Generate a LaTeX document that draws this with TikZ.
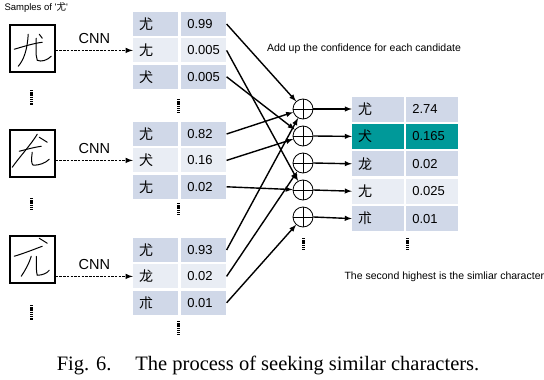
\documentclass[tikz,border=0pt]{standalone}
\usepackage{fontspec}
\setmainfont{Liberation Sans}
\newfontfamily\cjk{Noto Sans CJK SC}
\newfontfamily\capfont{Liberation Serif}
\usepackage{tikz}
\usetikzlibrary{arrows, positioning, calc}
\usepackage{xcolor}
\definecolor{rowdark}{RGB}{208,216,232}
\definecolor{rowlight}{RGB}{233,237,244}
\definecolor{besthit}{RGB}{0,153,153}

\begin{document}
\begin{tikzpicture}[
    x=1pt, y=-1pt,
    sample/.style={rectangle, draw, line width=1.5pt, minimum width=45pt, minimum height=47pt, inner sep=0pt},
    pen/.style={line width=1pt, line cap=round, line join=round},
    keycell/.style={rectangle, inner sep=0pt, inner xsep=6pt, text width=33pt, minimum height=24pt, align=left, font=\cjk\fontsize{14}{16}\selectfont},
    valcell/.style={rectangle, inner sep=0pt, inner xsep=6pt, text width=33pt, minimum height=24pt, align=left, font=\fontsize{13}{15}\selectfont},
    reskey/.style={keycell, text width=40pt, minimum height=25pt},
    resval/.style={valcell, text width=40pt, minimum height=25pt},
    adder/.style={circle, draw, thick, fill=white, minimum size=20pt, inner sep=0pt,
        path picture={\draw (path picture bounding box.north) -- (path picture bounding box.south)
                            (path picture bounding box.west) -- (path picture bounding box.east);}},
    cnn/.style={->, >=latex, line width=1.5pt, dash pattern=on 2.5pt off 1.2pt},
    arrow/.style={->, >=latex, line width=1.4pt},
    vdots/.style={line width=3pt, dash pattern=on 1.3pt off 0.9pt},
    note/.style={font=\fontsize{10.5}{12}\selectfont},
    node distance=2pt
]
    \useasboundingbox (0,0) rectangle (544,380);

    % Samples
    \node[note, anchor=west, font=\fontsize{9.5}{11}\selectfont] (title) at (1,8) {Samples of \textquotesingle{\cjk 尤}\textquotesingle};
    \node[sample] (s1) at (32.5,48.5) {};
    \node[sample] (s2) at (32.5,153.5) {};
    \node[sample] (s3) at (32.5,259.5) {};

    % handwriting
    \begin{scope}[shift={(s1.north west)}]
        \draw[pen] (5,25) .. controls (15,22) and (25,19) .. (33,18);
        \draw[pen] (19,10) .. controls (18,25) and (15,35) .. (9,42);
        \draw[pen] (27,14) .. controls (27,22) and (26,30) .. (28,36) .. controls (32,38) and (38,36) .. (42,32);
        \draw[pen] (30,10) -- (33,14);
    \end{scope}
    \begin{scope}[shift={(s2.north west)}]
        \draw[pen] (10,22) .. controls (18,20) and (25,18) .. (32,17);
        \draw[pen] (28,5) .. controls (22,15) and (10,28) .. (3,38);
        \draw[pen] (30,8) -- (38,13);
        \draw[pen] (23,23) .. controls (22,30) and (22,35) .. (24,36) .. controls (30,36) and (36,34) .. (40,30);
    \end{scope}
    \begin{scope}[shift={(s3.north west)}]
        \draw[pen] (5,21) .. controls (15,18) and (25,14) .. (33,11);
        \draw[pen] (30,3) -- (38,8);
        \draw[pen] (22,21) .. controls (20,28) and (16,35) .. (12,41);
        \draw[pen] (27,21) .. controls (27,30) and (27,37) .. (28,40) .. controls (33,40) and (38,38) .. (40,35);
    \end{scope}

    % CNN outputs, sample 1
    \node[keycell, fill=rowdark] (t1a) at (155.5,24) {尤};
    \node[valcell, fill=rowdark, right=3pt of t1a] (t1av) {0.99};
    \node[keycell, fill=rowlight, below=2pt of t1a] (t1b) {尢};
    \node[valcell, fill=rowlight, right=3pt of t1b] (t1bv) {0.005};
    \node[keycell, fill=rowdark, below=2pt of t1b] (t1c) {犬};
    \node[valcell, fill=rowdark, right=3pt of t1c] (t1cv) {0.005};

    % CNN outputs, sample 2
    \node[keycell, fill=rowdark] (t2a) at (155.5,134) {尤};
    \node[valcell, fill=rowdark, right=3pt of t2a] (t2av) {0.82};
    \node[keycell, fill=rowlight, below=2pt of t2a] (t2b) {犬};
    \node[valcell, fill=rowlight, right=3pt of t2b] (t2bv) {0.16};
    \node[keycell, fill=rowdark, below=2pt of t2b] (t2c) {尢};
    \node[valcell, fill=rowdark, right=3pt of t2c] (t2cv) {0.02};

    % CNN outputs, sample 3
    \node[keycell, fill=rowdark] (t3a) at (155.5,250) {尤};
    \node[valcell, fill=rowdark, right=3pt of t3a] (t3av) {0.93};
    \node[keycell, fill=rowlight, below=2pt of t3a] (t3b) {龙};
    \node[valcell, fill=rowlight, right=3pt of t3b] (t3bv) {0.02};
    \node[keycell, fill=rowdark, below=2pt of t3b] (t3c) {朮};
    \node[valcell, fill=rowdark, right=3pt of t3c] (t3cv) {0.01};

    % CNN arrows
    \draw[cnn] (s1.east |- t1b.west) -- node[above=3pt, font=\fontsize{14.5}{16}\selectfont] {CNN} (t1b.west);
    \draw[cnn] (s2.east |- t2b.west) -- node[above=3pt, font=\fontsize{14.5}{16}\selectfont] {CNN} (t2b.west);
    \draw[cnn] (s3.east |- t3b.west) -- node[above=3pt, font=\fontsize{14.5}{16}\selectfont] {CNN} (t3b.west);

    % Adders
    \node[adder] (c1) at (303,109) {};
    \node[adder] (c2) at (303,136) {};
    \node[adder] (c3) at (303,163) {};
    \node[adder] (c4) at (303,190) {};
    \node[adder] (c5) at (303,217) {};

    % Summed confidence
    \node[reskey, fill=rowdark] (r1) at (378,109) {尤};
    \node[resval, fill=rowdark, right=2pt of r1] (r1v) {2.74};
    \node[reskey, fill=besthit, below=2pt of r1] (r2) {犬};
    \node[resval, fill=besthit, right=2pt of r2] (r2v) {0.165};
    \node[reskey, fill=rowdark, below=2pt of r2] (r3) {龙};
    \node[resval, fill=rowdark, right=2pt of r3] (r3v) {0.02};
    \node[reskey, fill=rowlight, below=2pt of r3] (r4) {尢};
    \node[resval, fill=rowlight, right=2pt of r4] (r4v) {0.025};
    \node[reskey, fill=rowdark, below=2pt of r4] (r5) {朮};
    \node[resval, fill=rowdark, right=2pt of r5] (r5v) {0.01};

    % Confidence to adders
    \draw[arrow] (t1av.east) -- (c1);
    \draw[arrow] (t1bv.east) -- (c4);
    \draw[arrow] (t1cv.east) -- (c2);
    \draw[arrow] (t2av.east) -- (c1);
    \draw[arrow] (t2bv.east) -- (c2);
    \draw[arrow] (t2cv.east) -- (c4);
    \draw[arrow] (t3av.east) -- (c1);
    \draw[arrow] (t3bv.east) -- (c3);
    \draw[arrow] (t3cv.east) -- (c5);

    % Adders to result
    \foreach \i in {1,...,5}
        \draw[arrow] (c\i.east) -- (r\i.west);

    % vertical dots
    \draw[vdots] (31,90) -- (31,105);
    \draw[vdots] (31,198) -- (31,211);
    \draw[vdots] (31,305) -- (31,320);
    \draw[vdots] (178,99) -- (178,113);
    \draw[vdots] (178,203) -- (178,216);
    \draw[vdots] (178,321) -- (178,335);
    \draw[vdots] (303,238) -- (303,251);
    \draw[vdots] (407,238) -- (407,251);

    % Notes
    \node[note] (addnote) at (364,49) {Add up the confidence for each candidate};
    \node[note, anchor=west] (simnote) at (341,277) {The second highest is the simliar character};

    % Caption
    \node[font=\capfont\fontsize{20.5}{24}\selectfont] (caption) at (268,365) {Fig. 6.\hspace{24pt}The process of seeking similar characters.};
\end{tikzpicture}
\end{document}
